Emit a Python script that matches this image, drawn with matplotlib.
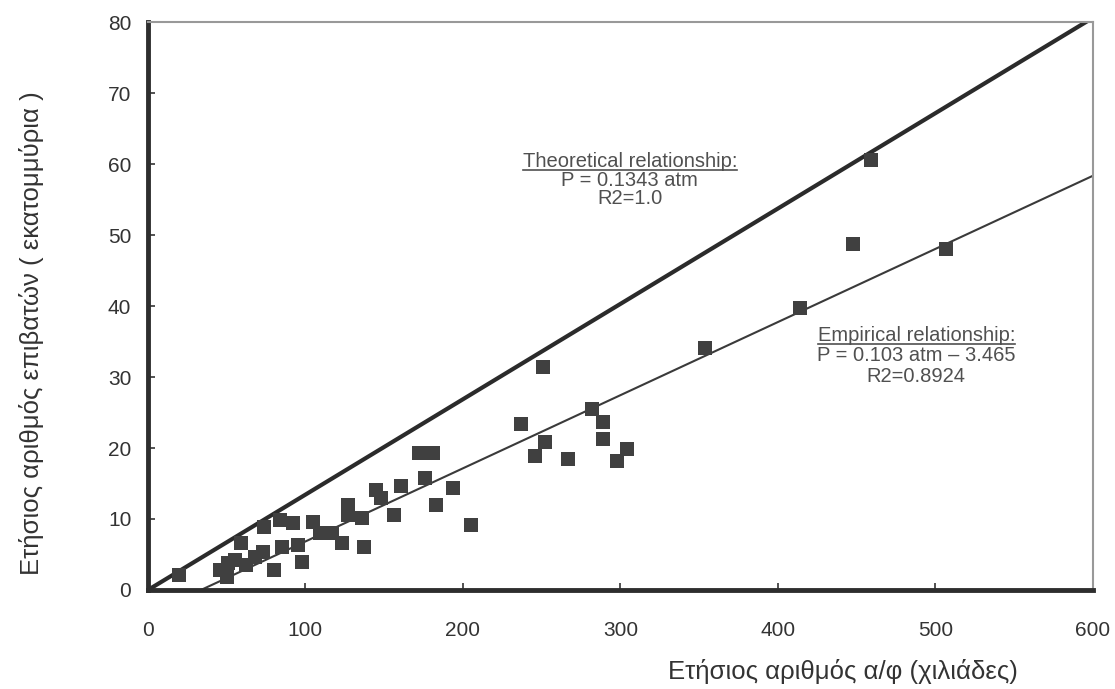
import numpy as np
import matplotlib
matplotlib.use("Agg")
import matplotlib.pyplot as plt

plt.rcParams['font.family'] = ['Liberation Sans', 'DejaVu Sans']

# aircraft movements (thousands) vs passengers (millions)
atm = [20, 46, 50, 51, 55, 59, 62, 68, 73, 74, 80, 84, 85, 92, 95, 98,
       105, 109, 117, 123, 127, 127, 136, 137, 145, 148, 156, 161,
       172, 176, 181, 176, 183, 194, 205,
       237, 246, 251, 252, 267, 282, 289, 289, 298, 304,
       354, 414, 448, 459, 507]
pax = [2.1, 2.8, 1.9, 3.8, 4.2, 6.6, 3.5, 4.7, 5.4, 8.9, 2.8, 9.9, 6.1, 9.4, 6.3, 4.0,
       9.6, 8.0, 8.0, 6.6, 12.0, 10.6, 10.1, 6.1, 14.1, 13.0, 10.6, 14.6,
       19.3, 19.3, 19.3, 15.8, 12.0, 14.4, 9.2,
       23.4, 18.9, 31.4, 20.8, 18.4, 25.5, 23.6, 21.2, 18.1, 19.8,
       34.1, 39.7, 48.7, 60.5, 48.0]

theo_slope = 0.1343
emp_slope, emp_icpt = 0.103, -3.465

theo_lines = ['P = 0.1343 atm', 'R2=1.0']
emp_lines = ['P = 0.103 atm – 3.465', 'R2=0.8924']

fig = plt.figure(figsize=(11.15, 6.89), dpi=100)
ax = fig.add_axes([0.1327, 0.1437, 0.8473, 0.8243])

xs = np.array([0, 600])
ax.plot(xs, theo_slope * xs, color='#2b2b2b', lw=3.0, solid_capstyle='butt', zorder=2)
xe = np.array([-emp_icpt / emp_slope, 600])
ax.plot(xe, emp_slope * xe + emp_icpt, color='#3a3a3a', lw=1.5, zorder=2)
ax.plot(atm, pax, 's', color='#404040', markersize=10, markeredgewidth=0, zorder=3)

ax.set_xlim(0, 600)
ax.set_ylim(0, 80)
ax.set_xticks(range(0, 601, 100))
ax.set_yticks(range(0, 81, 10))
ax.tick_params(direction='in', length=5, width=1.2, colors='#333333',
               labelsize=15, labelcolor='#333333')
ax.tick_params(axis='x', pad=22)
ax.tick_params(axis='y', pad=12)

for s in ['left', 'bottom']:
    ax.spines[s].set_linewidth(3.5)
    ax.spines[s].set_color('#2e2e2e')
for s in ['top', 'right']:
    ax.spines[s].set_linewidth(1.5)
    ax.spines[s].set_color('#999999')

fig.text(843 / 1115, 1 - 671 / 689, 'Ετήσιος αριθμός α/φ (χιλιάδες)',
         fontsize=18.5, color='#333333', ha='center', va='center')
fig.text(32 / 1115, 1 - 333 / 689, 'Ετήσιος αριθμός επιβατών ( εκατομμύρια )',
         fontsize=18.5, color='#333333', ha='center', va='center', rotation=90)

tc = '#505050'
t1 = ax.text(306, 60.3, 'Theoretical relationship:', ha='center', va='center', fontsize=14.5, color=tc)
ax.text(306, 57.7, theo_lines[0], ha='center', va='center', fontsize=14.5, color=tc)
ax.text(306, 55.2, theo_lines[1], ha='center', va='center', fontsize=14.5, color=tc)
t2 = ax.text(488, 35.9, 'Empirical relationship:', ha='center', va='center', fontsize=14.5, color=tc)
ax.text(488, 33.0, emp_lines[0], ha='center', va='center', fontsize=14.5, color=tc)
ax.text(488, 30.1, emp_lines[1], ha='center', va='center', fontsize=14.5, color=tc)

# underline the two headings
fig.canvas.draw()
inv = ax.transData.inverted()
for t in (t1, t2):
    bb = t.get_window_extent()
    (x0, y0), (x1, _) = inv.transform([(bb.x0, bb.y0 + 1), (bb.x1, bb.y0 + 1)])
    ax.plot([x0, x1], [y0, y0], color=tc, lw=1.2)

fig.savefig('out.png', dpi=100)
